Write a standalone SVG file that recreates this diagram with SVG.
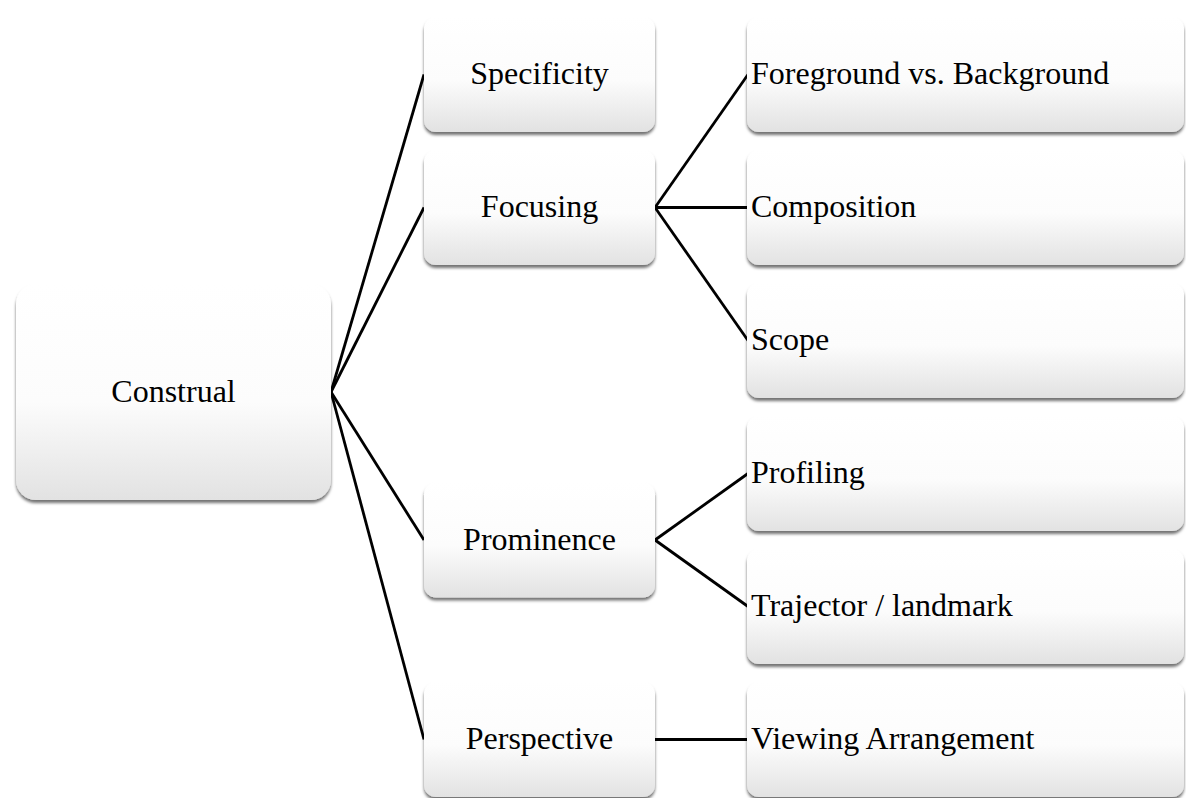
<svg xmlns="http://www.w3.org/2000/svg" width="1186" height="798" viewBox="0 0 1186 798">
  <defs>
    <linearGradient id="g" x1="0" y1="0" x2="0" y2="1">
      <stop offset="0" stop-color="#ffffff"/>
      <stop offset="0.55" stop-color="#fcfcfc"/>
      <stop offset="1" stop-color="#e2e2e2"/>
    </linearGradient>
    <filter id="sh" x="-5%" y="-5%" width="110%" height="120%">
      <feDropShadow dx="0" dy="3" stdDeviation="1.6" flood-color="#000" flood-opacity="0.55"/>
    </filter>
    <style>
      .box { fill: url(#g); filter: url(#sh); }
      .t { font-family: "Liberation Serif", "Times New Roman", serif; font-size: 32px; fill: #000; }
      .c { text-anchor: middle; }
      .conn line { stroke: #000; stroke-width: 2.8; }
    </style>
  </defs>
  <rect width="1186" height="798" fill="#fff"/>

  <g class="conn" id="connectors">
    <line x1="331" y1="392" x2="424" y2="74.5"/>
    <line x1="331" y1="392" x2="424" y2="207.5"/>
    <line x1="331" y1="392" x2="424" y2="540"/>
    <line x1="331" y1="392" x2="424" y2="739.5"/>
    <line x1="655" y1="207.5" x2="748" y2="74.5"/>
    <line x1="655" y1="207.5" x2="748" y2="207.5"/>
    <line x1="655" y1="207.5" x2="748" y2="340.5"/>
    <line x1="655" y1="540" x2="748" y2="473.5"/>
    <line x1="655" y1="540" x2="748" y2="606.5"/>
    <line x1="655" y1="739.5" x2="748" y2="739.5"/>
  </g>

  <g id="construal">
    <rect class="box" x="16" y="284" width="315" height="216" rx="20"/>
    <text class="t c" x="173.5" y="402">Construal</text>
  </g>
  <g id="specificity">
    <rect class="box" x="424" y="17" width="231" height="115" rx="12"/>
    <text class="t c" x="539.5" y="84">Specificity</text>
  </g>
  <g id="focusing">
    <rect class="box" x="424" y="150" width="231" height="115" rx="12"/>
    <text class="t c" x="539.5" y="217">Focusing</text>
  </g>
  <g id="prominence">
    <rect class="box" x="424" y="482.5" width="231" height="115" rx="12"/>
    <text class="t c" x="539.5" y="550">Prominence</text>
  </g>
  <g id="perspective">
    <rect class="box" x="424" y="682" width="231" height="115" rx="12"/>
    <text class="t c" x="539.5" y="749">Perspective</text>
  </g>

  <g id="foreground">
    <rect class="box" x="747" y="17" width="437" height="115" rx="12"/>
    <text class="t" x="751" y="84">Foreground vs. Background</text>
  </g>
  <g id="composition">
    <rect class="box" x="747" y="150" width="437" height="115" rx="12"/>
    <text class="t" x="751" y="217">Composition</text>
  </g>
  <g id="scope">
    <rect class="box" x="747" y="283" width="437" height="115" rx="12"/>
    <text class="t" x="751" y="350">Scope</text>
  </g>
  <g id="profiling">
    <rect class="box" x="747" y="416" width="437" height="115" rx="12"/>
    <text class="t" x="751" y="483">Profiling</text>
  </g>
  <g id="trajector">
    <rect class="box" x="747" y="549" width="437" height="115" rx="12"/>
    <text class="t" x="751" y="616">Trajector / landmark</text>
  </g>
  <g id="viewing">
    <rect class="box" x="747" y="682" width="437" height="115" rx="12"/>
    <text class="t" x="751" y="749">Viewing Arrangement</text>
  </g>
</svg>
